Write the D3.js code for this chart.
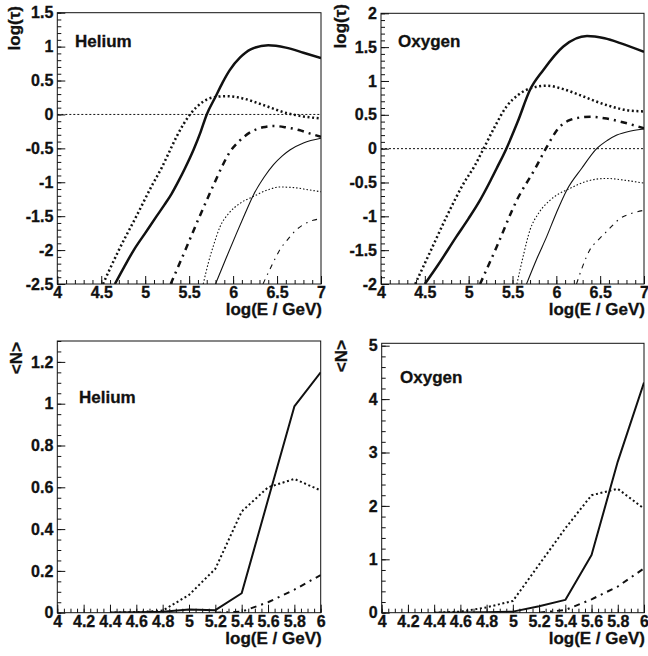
<!DOCTYPE html>
<html><head><meta charset="utf-8">
<script src="https://cdn.jsdelivr.net/npm/d3@7"></script>
<style>
body{margin:0;background:#fff}
text{font-family:"Liberation Sans",Arial,Helvetica,sans-serif;font-weight:bold;fill:#111;stroke:#111;stroke-width:0.3px}
</style>
</head><body>
<svg id="chart" width="648" height="656"></svg>
<script>
// ---------------- DATA ----------------
// log(tau) vs log(E/GeV), Helium
const heTauThickSolid = [[4.655,-2.5],[4.76,-2.25],[4.87,-2.0],[5.0,-1.75],[5.13,-1.5],[5.22,-1.33],[5.30,-1.17],[5.38,-0.98],[5.45,-0.80],[5.55,-0.52],[5.63,-0.26],[5.70,0.0],[5.80,0.26],[5.88,0.47],[5.96,0.65],[6.08,0.84],[6.2,0.96],[6.4,1.02],[6.6,0.985],[6.8,0.91],[7.0,0.83]];
const heTauThickDotted = [[4.52,-2.5],[4.70,-2.0],[4.90,-1.5],[5.08,-1.04],[5.19,-0.78],[5.26,-0.59],[5.36,-0.32],[5.51,0.0],[5.65,0.18],[5.77,0.25],[5.93,0.27],[6.1,0.24],[6.34,0.14],[6.61,0.02],[6.8,-0.03],[7.0,-0.06]];
const heTauThickDashDot = [[5.29,-2.5],[5.45,-2.02],[5.60,-1.56],[5.75,-1.12],[5.87,-0.78],[5.95,-0.58],[6.08,-0.38],[6.2,-0.26],[6.34,-0.19],[6.46,-0.17],[6.6,-0.19],[6.75,-0.23],[6.87,-0.28],[7.0,-0.33]];
const heTauThinSolid = [[5.80,-2.5],[5.92,-2.12],[6.04,-1.75],[6.14,-1.45],[6.23,-1.19],[6.35,-0.93],[6.46,-0.74],[6.56,-0.61],[6.65,-0.52],[6.8,-0.42],[7.0,-0.35]];
const heTauThinDotted = [[5.66,-2.5],[5.72,-2.18],[5.78,-1.92],[5.85,-1.66],[5.95,-1.46],[6.08,-1.31],[6.23,-1.21],[6.4,-1.11],[6.53,-1.07],[6.7,-1.08],[6.85,-1.11],[7.0,-1.14]];
const heTauThinDashDot = [[6.34,-2.5],[6.45,-2.2],[6.53,-2.0],[6.63,-1.83],[6.72,-1.70],[6.82,-1.61],[6.91,-1.56],[7.0,-1.54]];
// log(tau) vs log(E/GeV), Oxygen
const oxTauThickSolid = [[4.50,-2.0],[4.65,-1.72],[4.86,-1.30],[5.0,-1.03],[5.13,-0.76],[5.25,-0.47],[5.32,-0.29],[5.43,0.0],[5.56,0.40],[5.70,0.87],[5.85,1.16],[6.08,1.51],[6.35,1.665],[6.55,1.63],[6.73,1.56],[7.0,1.43]];
const oxTauThickDotted = [[4.39,-2.0],[4.57,-1.5],[4.75,-1.0],[4.94,-0.52],[5.07,-0.25],[5.17,0.0],[5.30,0.33],[5.43,0.62],[5.57,0.80],[5.70,0.89],[5.89,0.93],[6.08,0.88],[6.27,0.79],[6.57,0.645],[6.8,0.57],[7.0,0.55]];
const oxTauThickDashDot = [[5.13,-2.0],[5.32,-1.45],[5.55,-0.76],[5.76,-0.29],[5.88,0.0],[6.04,0.325],[6.15,0.42],[6.27,0.46],[6.40,0.47],[6.55,0.45],[6.73,0.40],[7.0,0.30]];
const oxTauThinSolid = [[5.66,-2.0],[5.78,-1.62],[5.89,-1.30],[6.0,-0.95],[6.12,-0.61],[6.29,-0.29],[6.46,0.0],[6.58,0.12],[6.69,0.20],[6.85,0.26],[7.0,0.29]];
const oxTauThinDotted = [[5.55,-2.0],[5.62,-1.6],[5.70,-1.20],[5.80,-0.95],[5.93,-0.76],[6.16,-0.585],[6.35,-0.48],[6.57,-0.44],[6.8,-0.47],[7.0,-0.51]];
const oxTauThinDashDot = [[6.23,-2.0],[6.30,-1.74],[6.38,-1.50],[6.47,-1.36],[6.57,-1.23],[6.73,-1.03],[6.85,-0.96],[7.0,-0.91]];
// <N> vs log(E/GeV)
const energiesN = [4.4,4.6,4.8,5.0,5.2,5.4,5.6,5.8,6.0];
const heNSolid  = [0.001,0.002,0.004,0.015,0.012,0.093,0.54,0.987,1.15];
const heNDotted = [0.0,0.003,0.01,0.085,0.21,0.484,0.60,0.64,0.585];
const energiesNDashDot = [5.2,5.4,5.6,5.8,6.0];
const heNDashDot = [0.0,0.005,0.05,0.11,0.18];
const oxNSolid  = [0.0,0.005,0.01,0.02,0.12,0.24,1.08,2.83,4.31];
const oxNDotted = [0.0,0.02,0.1,0.22,0.9,1.58,2.2,2.32,1.95];
const oxNDashDot = [0.0,0.05,0.25,0.49,0.83];
// tick labels (values)
const tauXTicks = [4,4.5,5,5.5,6,6.5,7];
const heTauYTicks = [-2.5,-2,-1.5,-1,-0.5,0,0.5,1,1.5];
const oxTauYTicks = [-2,-1.5,-1,-0.5,0,0.5,1,1.5,2];
const nXTicks = [4,4.2,4.4,4.6,4.8,5,5.2,5.4,5.6,5.8,6];
const heNYTicks = [0,0.2,0.4,0.6,0.8,1,1.2];
const oxNYTicks = [0,1,2,3,4,5];

// ---------------- STYLES ----------------
const FONT = '"Liberation Sans",Arial,Helvetica,sans-serif';
const ST = {
  thickSolid:   {w:2.5, dash:null},
  thickDotted:  {w:2.5, dash:"2 2.6"},
  thickDashDot: {w:2.5, dash:"6.5 5 2 5"},
  thinSolid:    {w:1.1, dash:null},
  thinDotted:   {w:1.1, dash:"1.5 2"},
  thinDashDot:  {w:1.1, dash:"5 5 1.5 5"},
  nSolid:       {w:2,   dash:null},
  nDotted:      {w:2,   dash:"2 2.6"},
  nDashDot:     {w:2,   dash:"6 5 2 5"}
};
const zip = (xs, ys) => xs.map((x,i)=>[x, ys[i]]);

const panels = [
  {box:[57.3,12.7,321,284], xDom:[4,7], yDom:[-2.5,1.5], xTicks:tauXTicks, xMinor:0.1, yTicks:heTauYTicks, yMinor:0.1,
   label:"Helium", labelPos:[75,47], yTitle:"log(τ)", yTitleX:20, yTitleTop:6, zero:true, smooth:true,
   series:[[heTauThickSolid,"thickSolid"],[heTauThickDotted,"thickDotted"],[heTauThickDashDot,"thickDashDot"],
           [heTauThinSolid,"thinSolid"],[heTauThinDotted,"thinDotted"],[heTauThinDashDot,"thinDashDot"]]},
  {box:[381,13.3,644,284], xDom:[4,7], yDom:[-2,2], xTicks:tauXTicks, xMinor:0.1, yTicks:oxTauYTicks, yMinor:0.1,
   label:"Oxygen", labelPos:[398,47], yTitle:"log(τ)", yTitleX:346, yTitleTop:4, zero:true, smooth:true,
   series:[[oxTauThickSolid,"thickSolid"],[oxTauThickDotted,"thickDotted"],[oxTauThickDashDot,"thickDashDot"],
           [oxTauThinSolid,"thinSolid"],[oxTauThinDotted,"thinDotted"],[oxTauThinDashDot,"thinDashDot"]]},
  {box:[57.3,341,320.7,612.7], xDom:[4,6], yDom:[0,1.3], xTicks:nXTicks, xMinor:0.05, yTicks:heNYTicks, yMinor:0.05,
   label:"Helium", labelPos:[79,403], yTitle:"<N>", yTitleX:22, yTitleTop:342, zero:false, smooth:false,
   series:[[zip(energiesN,heNSolid),"nSolid"],[zip(energiesN,heNDotted),"nDotted"],[zip(energiesNDashDot,heNDashDot),"nDashDot"]]},
  {box:[381.7,343.3,644,612.7], xDom:[4,6], yDom:[0,5.045], xTicks:nXTicks, xMinor:0.05, yTicks:oxNYTicks, yMinor:0.2,
   label:"Oxygen", labelPos:[400,383], yTitle:"<N>", yTitleX:347, yTitleTop:340, zero:false, smooth:false,
   series:[[zip(energiesN,oxNSolid),"nSolid"],[zip(energiesN,oxNDotted),"nDotted"],[zip(energiesNDashDot,oxNDashDot),"nDashDot"]]}
];

const svg = d3.select("#chart");
const fmt = d => String(+(+d).toFixed(2));
const rng = (a,b,s) => { const n=Math.round((b-a)/s); return d3.range(n+1).map(i=>+(a+i*s).toFixed(4)); };

panels.forEach((p,pi) => {
  const [L,T,R,B] = p.box;
  const x = d3.scaleLinear().domain(p.xDom).range([L,R]);
  const y = d3.scaleLinear().domain(p.yDom).range([B,T]);
  const g = svg.append("g");

  const cid = "clip"+pi;
  svg.append("clipPath").attr("id",cid).append("rect").attr("x",L).attr("y",T).attr("width",R-L).attr("height",B-T);

  // minor ticks
  const xMin = rng(p.xDom[0], p.xDom[1], p.xMinor);
  const yMin = rng(p.yDom[0], Math.floor(p.yDom[1]/p.yMinor+1e-6)*p.yMinor, p.yMinor);
  g.append("g").attr("transform",`translate(0,${B})`)
    .call(d3.axisBottom(x).tickValues(xMin).tickSize(-4).tickFormat(""))
    .call(a=>a.select(".domain").remove());
  g.append("g").attr("transform",`translate(${L},0)`)
    .call(d3.axisLeft(y).tickValues(yMin).tickSize(-4).tickFormat(""))
    .call(a=>a.select(".domain").remove());
  // major ticks
  const xa = g.append("g").attr("transform",`translate(0,${B})`)
    .call(d3.axisBottom(x).tickValues(p.xTicks).tickSize(-8).tickPadding(3).tickFormat(fmt));
  xa.select(".domain").remove();
  xa.attr("font-family",FONT).attr("font-size",16).attr("font-weight","bold");
  xa.selectAll("text").attr("fill","#111").style("font-weight","bold").style("font-size","16px");
  const ya = g.append("g").attr("transform",`translate(${L},0)`)
    .call(d3.axisLeft(y).tickValues(p.yTicks).tickSize(-8).tickPadding(4).tickFormat(fmt));
  ya.select(".domain").remove();
  ya.attr("font-family",FONT).attr("font-size",16).attr("font-weight","bold");
  ya.selectAll("text").attr("fill","#111").style("font-weight","bold").style("font-size","16px");
  g.selectAll(".tick line").attr("stroke","#111");

  // curves
  const line = d3.line().x(d=>x(d[0])).y(d=>y(d[1])).curve(p.smooth ? d3.curveMonotoneX : d3.curveLinear);
  const cg = g.append("g").attr("clip-path",`url(#${cid})`);
  if (p.zero) {
    cg.append("path").attr("d", line([[p.xDom[0],0],[p.xDom[1],0]]))
      .attr("fill","none").attr("stroke","#111").attr("stroke-width",1).attr("stroke-dasharray","2 2");
  }
  p.series.forEach(([data,key]) => {
    const s = ST[key];
    cg.append("path").attr("d", line(data)).attr("fill","none").attr("stroke","#111")
      .attr("stroke-width", s.w).attr("stroke-dasharray", s.dash).attr("stroke-linejoin","round");
  });

  // frame
  g.append("rect").attr("x",L).attr("y",T).attr("width",R-L).attr("height",B-T)
    .attr("fill","none").attr("stroke","#111").attr("stroke-width",1);

  // texts
  g.append("text").attr("x",p.labelPos[0]).attr("y",p.labelPos[1]).attr("font-size",17).text(p.label);
  g.append("text").attr("x",R+1).attr("y",B+31).attr("text-anchor","end").attr("font-size",17).text("log(E / GeV)");
  g.append("text").attr("transform",`translate(${p.yTitleX},${p.yTitleTop}) rotate(-90)`)
    .attr("text-anchor","end").attr("font-size",17).text(p.yTitle);
});
</script>
</body></html>
